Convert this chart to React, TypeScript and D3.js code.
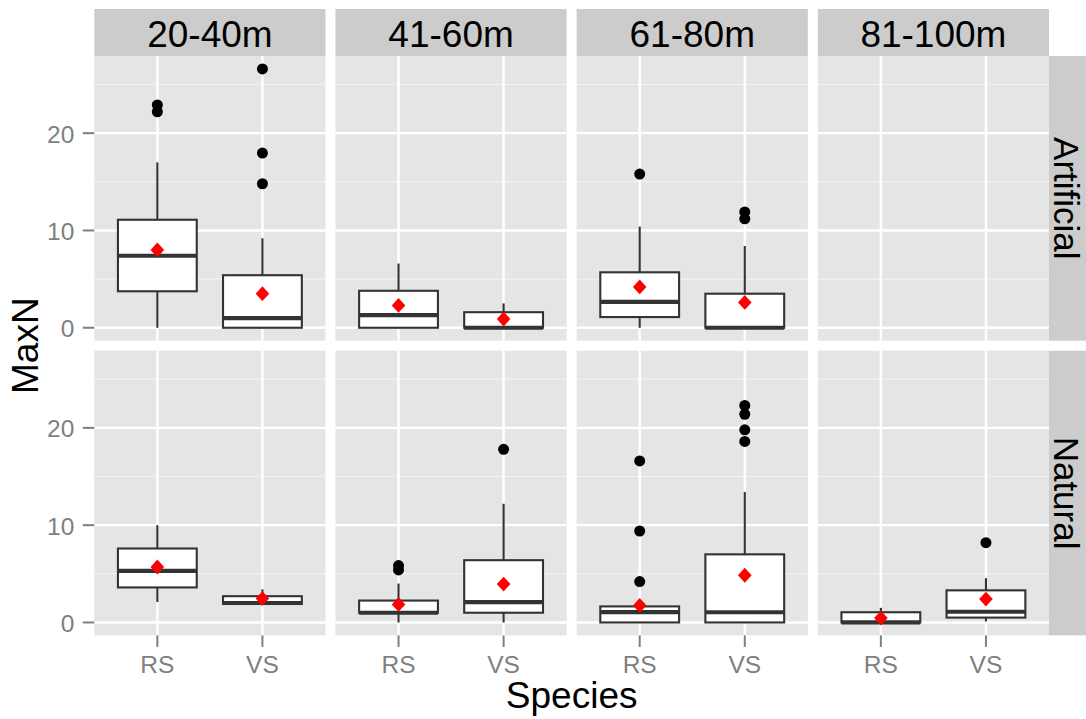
import React from 'react';
import * as d3 from 'd3';

const depths = ['20-40m', '41-60m', '61-80m', '81-100m'];
const habitats = ['Artificial', 'Natural'];
const species = ['RS', 'VS'];
const yTicks = [0, 10, 20];
const yMinorTicks = [5, 15, 25];
const yDomain = [-1.33, 27.93];

type Box = {
  habitat: string; depth: string; sp: string;
  lower: number; q1: number; median: number; q3: number; upper: number;
  mean: number; outliers: number[];
};

const artificialBoxes: Box[] = [
  { habitat: 'Artificial', depth: '20-40m', sp: 'RS', lower: 0, q1: 3.75, median: 7.4, q3: 11.1, upper: 17.0, mean: 8.0, outliers: [22.9, 22.2] },
  { habitat: 'Artificial', depth: '20-40m', sp: 'VS', lower: 0, q1: 0, median: 1.0, q3: 5.4, upper: 9.2, mean: 3.5, outliers: [26.6, 17.95, 14.8] },
  { habitat: 'Artificial', depth: '41-60m', sp: 'RS', lower: 0, q1: 0, median: 1.3, q3: 3.8, upper: 6.6, mean: 2.3, outliers: [] },
  { habitat: 'Artificial', depth: '41-60m', sp: 'VS', lower: 0, q1: 0, median: 0, q3: 1.6, upper: 2.5, mean: 0.9, outliers: [] },
  { habitat: 'Artificial', depth: '61-80m', sp: 'RS', lower: 0, q1: 1.1, median: 2.65, q3: 5.7, upper: 10.4, mean: 4.2, outliers: [15.8] },
  { habitat: 'Artificial', depth: '61-80m', sp: 'VS', lower: 0, q1: 0, median: 0, q3: 3.5, upper: 8.4, mean: 2.6, outliers: [11.9, 11.2] },
];

const naturalBoxes: Box[] = [
  { habitat: 'Natural', depth: '20-40m', sp: 'RS', lower: 2.1, q1: 3.6, median: 5.3, q3: 7.6, upper: 10.0, mean: 5.7, outliers: [] },
  { habitat: 'Natural', depth: '20-40m', sp: 'VS', lower: 1.9, q1: 1.9, median: 2.0, q3: 2.7, upper: 3.4, mean: 2.45, outliers: [] },
  { habitat: 'Natural', depth: '41-60m', sp: 'RS', lower: 0, q1: 1.0, median: 1.0, q3: 2.25, upper: 4.0, mean: 1.85, outliers: [5.85, 5.4] },
  { habitat: 'Natural', depth: '41-60m', sp: 'VS', lower: 0, q1: 1.0, median: 2.1, q3: 6.4, upper: 12.2, mean: 3.95, outliers: [17.8] },
  { habitat: 'Natural', depth: '61-80m', sp: 'RS', lower: 0, q1: 0, median: 1.07, q3: 1.65, upper: 1.65, mean: 1.75, outliers: [16.6, 9.4, 4.2] },
  { habitat: 'Natural', depth: '61-80m', sp: 'VS', lower: 0, q1: 0, median: 1.05, q3: 7.0, upper: 13.4, mean: 4.85, outliers: [22.3, 21.4, 19.8, 18.6] },
  { habitat: 'Natural', depth: '81-100m', sp: 'RS', lower: 0, q1: 0, median: 0, q3: 1.05, upper: 1.5, mean: 0.45, outliers: [] },
  { habitat: 'Natural', depth: '81-100m', sp: 'VS', lower: 0.1, q1: 0.5, median: 1.1, q3: 3.3, upper: 4.55, mean: 2.4, outliers: [8.2] },
];

const allBoxes = [...artificialBoxes, ...naturalBoxes];

const W = 1086, H = 719;
const panelLeft = 94.3, panelRight = 1049, gapX = 10;
const panelW = (panelRight - panelLeft - gapX * (depths.length - 1)) / depths.length;
const stripTop = 9, stripH = 47;
const rowTops = [56, 350.7];
const panelH = 284.7;
const rightStripW = 37;
const font = '"Liberation Sans", Arial, Helvetica, sans-serif';
const bigFont = 37;
const stripSideFont = 35;
const tickFont = 24.5;
const boxStroke = '#333333';

export default function App() {
  const colX = (i: number) => panelLeft + i * (panelW + gapX);
  const xScale = (i: number) => d3.scaleLinear().domain([0.4, 2.6]).range([colX(i), colX(i) + panelW]);
  const yScale = (r: number) => d3.scaleLinear().domain(yDomain).range([rowTops[r] + panelH, rowTops[r]]);
  const boxHalf = 0.375;
  const diamond = 'M0,-7.4L6.8,0L0,7.4L-6.8,0Z';

  return (
    <svg width={W} height={H} style={{ position: 'absolute', left: 0, top: 0, background: '#fff' }} fontFamily={font}>
      <rect x={0} y={0} width={W} height={H} fill="#fff" />
      {/* top strips */}
      {depths.map((d, i) => (
        <g key={'strip' + d}>
          <rect x={colX(i)} y={stripTop} width={panelW} height={stripH} fill="#CCCCCC" />
          <text x={colX(i) + panelW / 2} y={stripTop + 37.5} textAnchor="middle" fontSize={bigFont} fill="#000">{d}</text>
        </g>
      ))}
      {/* right strips */}
      {habitats.map((h, r) => (
        <g key={'rstrip' + h}>
          <rect x={panelRight} y={rowTops[r]} width={rightStripW} height={panelH} fill="#CCCCCC" />
          <text transform={`translate(${panelRight + rightStripW / 2 - 0.5},${rowTops[r] + panelH / 2}) rotate(90)`} dy="0.36em" textAnchor="middle" fontSize={stripSideFont} fill="#000">{h}</text>
        </g>
      ))}
      {/* panels */}
      {habitats.map((h, r) => depths.map((d, i) => {
        const xs = xScale(i);
        const ys = yScale(r);
        const x0 = colX(i);
        return (
          <g key={h + d}>
            <rect x={x0} y={rowTops[r]} width={panelW} height={panelH} fill="#E5E5E5" />
            {yMinorTicks.map(t => (
              <line key={'mn' + t} x1={x0} x2={x0 + panelW} y1={ys(t)} y2={ys(t)} stroke="#F2F2F2" strokeWidth={1.2} />
            ))}
            {yTicks.map(t => (
              <line key={'mj' + t} x1={x0} x2={x0 + panelW} y1={ys(t)} y2={ys(t)} stroke="#FFFFFF" strokeWidth={2.4} />
            ))}
            {species.map((s, k) => (
              <line key={'vx' + s} x1={xs(k + 1)} x2={xs(k + 1)} y1={rowTops[r]} y2={rowTops[r] + panelH} stroke="#FFFFFF" strokeWidth={2.4} />
            ))}
          </g>
        );
      }))}
      {/* boxes */}
      {allBoxes.map(b => {
        const r = habitats.indexOf(b.habitat);
        const i = depths.indexOf(b.depth);
        const k = species.indexOf(b.sp);
        const xs = xScale(i);
        const ys = yScale(r);
        const cx = xs(k + 1);
        const xl = xs(k + 1 - boxHalf), xr = xs(k + 1 + boxHalf);
        return (
          <g key={b.habitat + b.depth + b.sp}>
            <line x1={cx} x2={cx} y1={ys(b.q3)} y2={ys(b.upper)} stroke={boxStroke} strokeWidth={2.1} />
            <line x1={cx} x2={cx} y1={ys(b.q1)} y2={ys(b.lower)} stroke={boxStroke} strokeWidth={2.1} />
            <rect x={xl} y={ys(b.q3)} width={xr - xl} height={Math.max(0, ys(b.q1) - ys(b.q3))} fill="#FFFFFF" stroke={boxStroke} strokeWidth={2.1} />
            <line x1={xl} x2={xr} y1={ys(b.median)} y2={ys(b.median)} stroke={boxStroke} strokeWidth={4.2} />
            {b.outliers.map((o, j) => (
              <circle key={j} cx={cx} cy={ys(o)} r={5.5} fill="#000" />
            ))}
            <path d={diamond} transform={`translate(${cx},${ys(b.mean)})`} fill="#FF0000" />
          </g>
        );
      })}
      {/* y axes */}
      {habitats.map((h, r) => {
        const ys = yScale(r);
        return (
          <g key={'yax' + h}>
            {yTicks.map(t => (
              <g key={t}>
                <line x1={panelLeft - 11.5} x2={panelLeft} y1={ys(t)} y2={ys(t)} stroke="#7F7F7F" strokeWidth={2} />
                <text x={panelLeft - 20} y={ys(t) + 9.5} textAnchor="end" fontSize={tickFont} fill="#7F7F7F">{t}</text>
              </g>
            ))}
          </g>
        );
      })}
      {/* x axes */}
      {depths.map((d, i) => {
        const xs = xScale(i);
        const yb = rowTops[1] + panelH;
        return (
          <g key={'xax' + d}>
            {species.map((s, k) => (
              <g key={s}>
                <line x1={xs(k + 1)} x2={xs(k + 1)} y1={yb} y2={yb + 11.5} stroke="#7F7F7F" strokeWidth={2} />
                <text x={xs(k + 1)} y={673} textAnchor="middle" fontSize={tickFont} fill="#7F7F7F">{s}</text>
              </g>
            ))}
          </g>
        );
      })}
      {/* axis titles */}
      <text x={(panelLeft + panelRight) / 2} y={708} textAnchor="middle" fontSize={bigFont} fill="#000">Species</text>
      <text transform={`translate(38,${(rowTops[0] + rowTops[1] + panelH) / 2}) rotate(-90)`} textAnchor="middle" fontSize={bigFont} fill="#000">MaxN</text>
    </svg>
  );
}
